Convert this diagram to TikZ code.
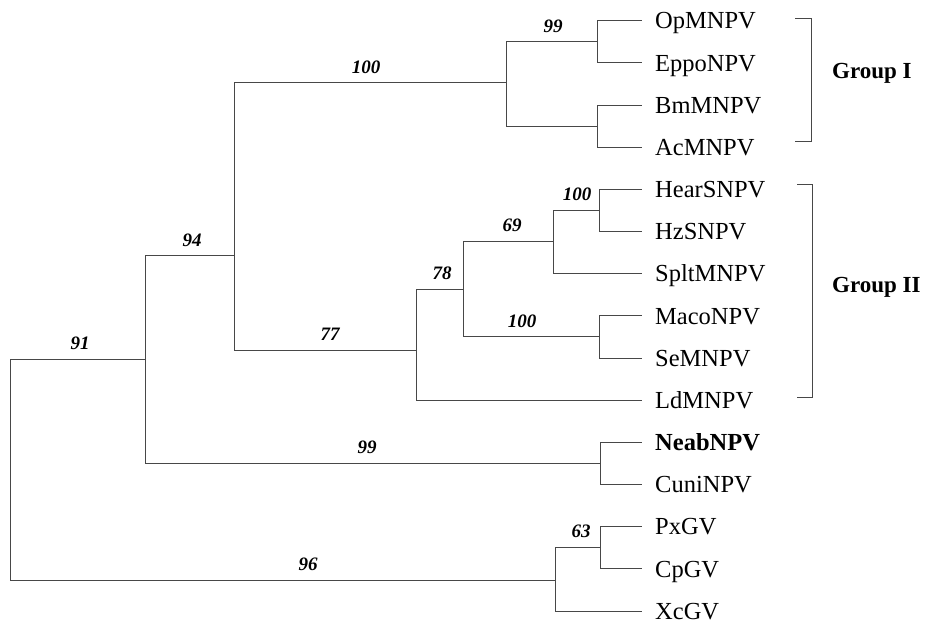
\documentclass[tikz,border=0pt]{standalone}
\usepackage{fontspec}
\setmainfont{Liberation Serif}
\begin{document}
\begin{tikzpicture}[x=1pt,y=-1pt,
  branch/.style={draw=black!72,line width=0.9pt},
  leaf/.style={anchor=west,inner xsep=13pt,inner ysep=0pt,text height=16.4pt,text depth=0pt,
    font=\fontsize{24.5}{28}\selectfont},
  boot/.style={anchor=base,inner sep=0pt,font=\fontsize{19}{22}\selectfont\bfseries\itshape},
  grp/.style={anchor=west,inner sep=0pt,font=\fontsize{23}{26}\selectfont\bfseries},
  brk/.style={draw=black!72,line width=0.9pt}]
\useasboundingbox (0,0) rectangle (928,625);
% leaves
\node[leaf] (OpM)  at (642,20.7)  {OpMNPV};
\node[leaf] (Eppo) at (642,62.9)  {EppoNPV};
\node[leaf] (Bm)   at (642,105.0) {BmMNPV};
\node[leaf] (Ac)   at (642,147.2) {AcMNPV};
\node[leaf] (Hear) at (642,189.3) {HearSNPV};
\node[leaf] (Hz)   at (642,231.5) {HzSNPV};
\node[leaf] (Splt) at (642,273.7) {SpltMNPV};
\node[leaf] (Maco) at (642,315.8) {MacoNPV};
\node[leaf] (Se)   at (642,358.0) {SeMNPV};
\node[leaf] (Ld)   at (642,400.1) {LdMNPV};
\node[leaf,font=\fontsize{24.5}{28}\selectfont\bfseries] (Neab) at (642,442.3) {NeabNPV};
\node[leaf] (Cuni) at (642,484.5) {CuniNPV};
\node[leaf] (Px)   at (642,526.6) {PxGV};
\node[leaf] (Cp)   at (642,568.8) {CpGV};
\node[leaf] (Xc)   at (642,611.0) {XcGV};
% internal nodes
\coordinate (nOE) at (597,41.8);
\coordinate (nBA) at (597,126.1);
\coordinate (nG1) at (506,82.7);
\coordinate (nHH) at (599,210.4);
\coordinate (n69) at (553,241);
\coordinate (nMS) at (599,336.9);
\coordinate (n78) at (463,289);
\coordinate (n77) at (416,350);
\coordinate (n94) at (234,255.7);
\coordinate (nNC) at (600,463.4);
\coordinate (n91) at (145,359);
\coordinate (nPC) at (600,547.7);
\coordinate (nGV) at (555,580);
\coordinate (root) at (10,469.5);
% branches
\draw[branch] (nOE) |- (OpM.west);
\draw[branch] (nOE) |- (Eppo.west);
\draw[branch] (nBA) |- (Bm.west);
\draw[branch] (nBA) |- (Ac.west);
\draw[branch] (nG1) |- (nOE);
\draw[branch] (nG1) |- (nBA);
\draw[branch] (nHH) |- (Hear.west);
\draw[branch] (nHH) |- (Hz.west);
\draw[branch] (n69) |- (nHH);
\draw[branch] (n69) |- (Splt.west);
\draw[branch] (nMS) |- (Maco.west);
\draw[branch] (nMS) |- (Se.west);
\draw[branch] (n78) |- (n69);
\draw[branch] (n78) |- (nMS);
\draw[branch] (n77) |- (n78);
\draw[branch] (n77) |- (Ld.west);
\draw[branch] (n94) |- (nG1);
\draw[branch] (n94) |- (n77);
\draw[branch] (nNC) |- (Neab.west);
\draw[branch] (nNC) |- (Cuni.west);
\draw[branch] (n91) |- (n94);
\draw[branch] (n91) |- (nNC);
\draw[branch] (nPC) |- (Px.west);
\draw[branch] (nPC) |- (Cp.west);
\draw[branch] (nGV) |- (nPC);
\draw[branch] (nGV) |- (Xc.west);
\draw[branch] (root) |- (n91);
\draw[branch] (root) |- (nGV);
% bootstrap values
\node[boot] (bOE) at (553,32.5)  {99};
\node[boot] (bG1) at (366,73.3)  {100};
\node[boot] (bHH) at (577,200.5) {100};
\node[boot] (b69) at (512,231.5) {69};
\node[boot] (bMS) at (522,327.5) {100};
\node[boot] (b78) at (442,279.5) {78};
\node[boot] (b77) at (330,340.5) {77};
\node[boot] (b94) at (192,246.2) {94};
\node[boot] (bNC) at (367,453.5) {99};
\node[boot] (b91) at (80,349.5)  {91};
\node[boot] (bPC) at (581,537)   {63};
\node[boot] (bGV) at (308,570.5) {96};
% group brackets
\draw[brk] (795,18.3) -- (811,18.3) -- (811,141.7) -- (795,141.7);
\draw[brk] (797,184) -- (812,184) -- (812,397) -- (797,397);
\node[grp] (g1) at (832,73) {Group I};
\node[grp] (g2) at (832,287) {Group II};
\end{tikzpicture}
\end{document}
